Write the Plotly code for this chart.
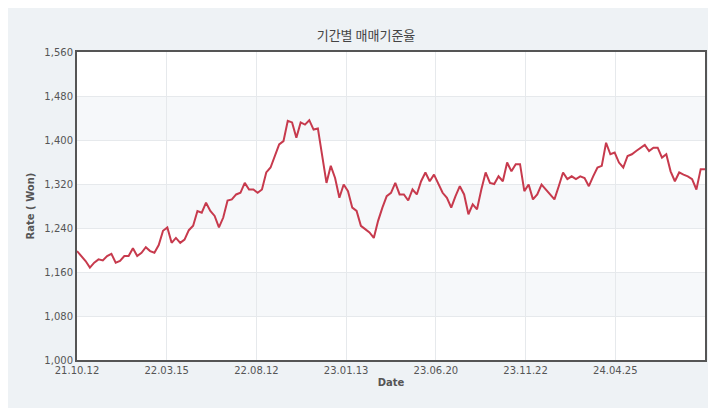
import plotly.graph_objects as go

# exchange rate samples, in order
rates = [1198, 1189, 1180, 1168, 1177, 1183, 1181, 1189, 1193, 1177, 1180, 1189, 1189, 1203,
         1189, 1195, 1205, 1198, 1195, 1209, 1235, 1241, 1213, 1222, 1213, 1219, 1236, 1244,
         1271, 1268, 1286, 1271, 1262, 1241, 1259, 1290, 1292, 1301, 1304, 1322, 1310, 1310,
         1304, 1310, 1341, 1350, 1371, 1392, 1398, 1435, 1432, 1404, 1432, 1428, 1436, 1419,
         1421, 1368, 1322, 1353, 1331, 1295, 1319, 1307, 1277, 1271, 1244, 1238, 1232, 1222,
         1253, 1277, 1298, 1304, 1322, 1301, 1301, 1290, 1310, 1301, 1325, 1341, 1325, 1337,
         1319, 1304, 1295, 1277, 1298, 1316, 1301, 1265, 1283, 1274, 1310, 1341, 1322, 1320,
         1334, 1325, 1359, 1343, 1356, 1356, 1307, 1319, 1292, 1301, 1319, 1310, 1301, 1292,
         1316, 1341, 1329, 1334, 1329, 1334, 1331, 1316, 1334, 1350, 1353, 1395, 1374, 1377,
         1359, 1350, 1371, 1374, 1380, 1386, 1391, 1380, 1386, 1386, 1368, 1374, 1343, 1325,
         1341, 1337, 1334, 1329, 1310, 1347, 1347]

tick_labels = ["21.10.12", "22.03.15", "22.08.12", "23.01.13", "23.06.20", "23.11.22", "24.04.25", "24.10.02"]
y_ticks = [1000, 1080, 1160, 1240, 1320, 1400, 1480, 1560]

n = len(rates)
x = list(range(n))
tick_pos = [i * (n - 1) / (len(tick_labels) - 1) for i in range(len(tick_labels))]

fig = go.Figure()
fig.add_trace(go.Scatter(x=x, y=rates, mode="lines",
                         line=dict(color="#c73a4d", width=2), hoverinfo="y"))

# alternating horizontal bands
for i in range(len(y_ticks) - 1):
    if i % 2 == 1:
        fig.add_shape(type="rect", xref="paper", x0=0, x1=1, yref="y",
                      y0=y_ticks[i], y1=y_ticks[i + 1],
                      fillcolor="#f6f8fa", line_width=0, layer="below")

fig.update_layout(
    width=716, height=408,
    margin=dict(l=69, r=19, t=44, b=56, autoexpand=False),
    paper_bgcolor="#eef2f5",
    plot_bgcolor="white",
    showlegend=False,
    title=dict(text="기간별 매매기준율", x=0.5, xanchor="center", y=0.945,
               font=dict(family="Noto Sans CJK KR", size=13, color="#444")),
    font=dict(family="DejaVu Sans", size=10, color="#555"),
    xaxis=dict(tickvals=tick_pos, ticktext=tick_labels, range=[0, n - 1],
               showgrid=True, gridcolor="#e6e9ec", zeroline=False,
               showline=True, linecolor="#555", linewidth=2, mirror=True,
               title=dict(text="<b>Date</b>", font=dict(size=10, color="#555"), standoff=4)),
    yaxis=dict(range=[1000, 1560], tickvals=y_ticks, tickformat=",",
               showgrid=True, gridcolor="#e6e9ec", zeroline=False,
               showline=True, linecolor="#555", linewidth=2, mirror=True,
               title=dict(text="<b>Rate ( Won)</b>", font=dict(size=10, color="#555"), standoff=8)),
)

fig.write_html("out.html")
